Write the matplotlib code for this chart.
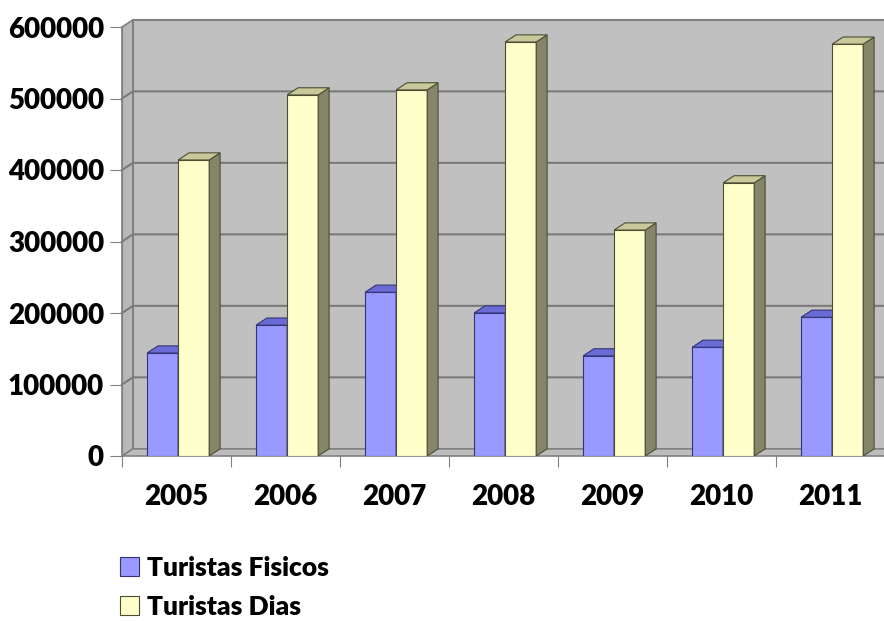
import matplotlib.pyplot as plt
from matplotlib.patches import Polygon

years = ['2005', '2006', '2007', '2008', '2009', '2010', '2011']
fisicos = [144000, 183000, 229000, 200000, 140000, 152000, 194000]
dias = [414000, 505000, 512000, 579000, 316000, 382000, 576000]
yticks = [0, 100000, 200000, 300000, 400000, 500000, 600000]

plt.rcParams['font.family'] = ['Lato', 'DejaVu Sans']

fig = plt.figure(figsize=(8.84, 6.21), dpi=100)
ax = fig.add_axes([122 / 884, 165 / 621, 763 / 884, 429 / 621])
ax.set_xlim(0, 7)
ax.set_ylim(0, 600000)

dx = 0.1      # depth in category units
dy = 10000    # depth in value units
ymax = 600000
n = len(years)

# walls
back = Polygon([(dx, dy), (n + dx, dy), (n + dx, ymax + dy), (dx, ymax + dy)],
               closed=True, fc='#c0c0c0', ec='#808080', lw=1.5, clip_on=False, zorder=1)
side = Polygon([(0, 0), (dx, dy), (dx, ymax + dy), (0, ymax)],
               closed=True, fc='#b8b8b8', ec='#808080', lw=1.2, clip_on=False, zorder=1)
floor = Polygon([(0, 0), (n, 0), (n + dx, dy), (dx, dy)],
                closed=True, fc='#bcbcbc', ec='#808080', lw=1.2, clip_on=False, zorder=1)
for p in (back, side, floor):
    ax.add_patch(p)

for v in yticks[1:-1]:
    ax.plot([0, dx, n + dx], [v, v + dy, v + dy], color='#7a7a7a', lw=1.5,
            clip_on=False, zorder=2)

w = 0.285
x_f = [i + 0.23 for i in range(n)]
x_d = [i + 0.23 + w for i in range(n)]


def bars3d(xs, vals, front, top, sidec, edge, label):
    cont = ax.bar(xs, vals, width=w, align='edge', color=front, edgecolor=edge,
                  lw=0.8, zorder=3, label=label)
    for x0, v in zip(xs, vals):
        x1 = x0 + w
        ax.add_patch(Polygon([(x1, 0), (x1 + dx, dy), (x1 + dx, v + dy), (x1, v)],
                             closed=True, fc=sidec, ec=edge, lw=0.8, zorder=3))
        ax.add_patch(Polygon([(x0, v), (x1, v), (x1 + dx, v + dy), (x0 + dx, v + dy)],
                             closed=True, fc=top, ec=edge, lw=0.8, zorder=3,
                             clip_on=False))
    return cont


bars3d(x_f, fisicos, '#9999ff', '#6b6bd6', '#5555aa', '#333377', 'Turistas Fisicos')
bars3d(x_d, dias, '#ffffcc', '#c8c89a', '#85856a', '#4d4d33', 'Turistas Dias')

for s in ['top', 'right', 'bottom']:
    ax.spines[s].set_visible(False)
ax.spines['left'].set_color('#808080')

ax.set_yticks(yticks)
ax.set_yticklabels([str(v) for v in yticks], fontsize=20, fontweight='heavy')
ax.set_xticks(range(n + 1))
ax.set_xticklabels([])
ax.set_xticks([i + 0.5 for i in range(n)], minor=True)
ax.set_xticklabels(years, minor=True, fontsize=20, fontweight='heavy')
ax.tick_params(axis='x', which='major', length=8, color='#808080')
ax.tick_params(axis='x', which='minor', length=0, pad=20)
ax.tick_params(axis='y', length=9, color='#808080', pad=4)

h, l = ax.get_legend_handles_labels()
fig.legend(h, l, loc='upper left', bbox_to_anchor=(120 / 884, 1 - 556 / 621),
           frameon=False, prop={'size': 19, 'weight': 'heavy'},
           handlelength=0.72, handleheight=0.72, handletextpad=0.3,
           labelspacing=0.56, borderpad=0, borderaxespad=0)

fig.savefig('out.png', dpi=100)
